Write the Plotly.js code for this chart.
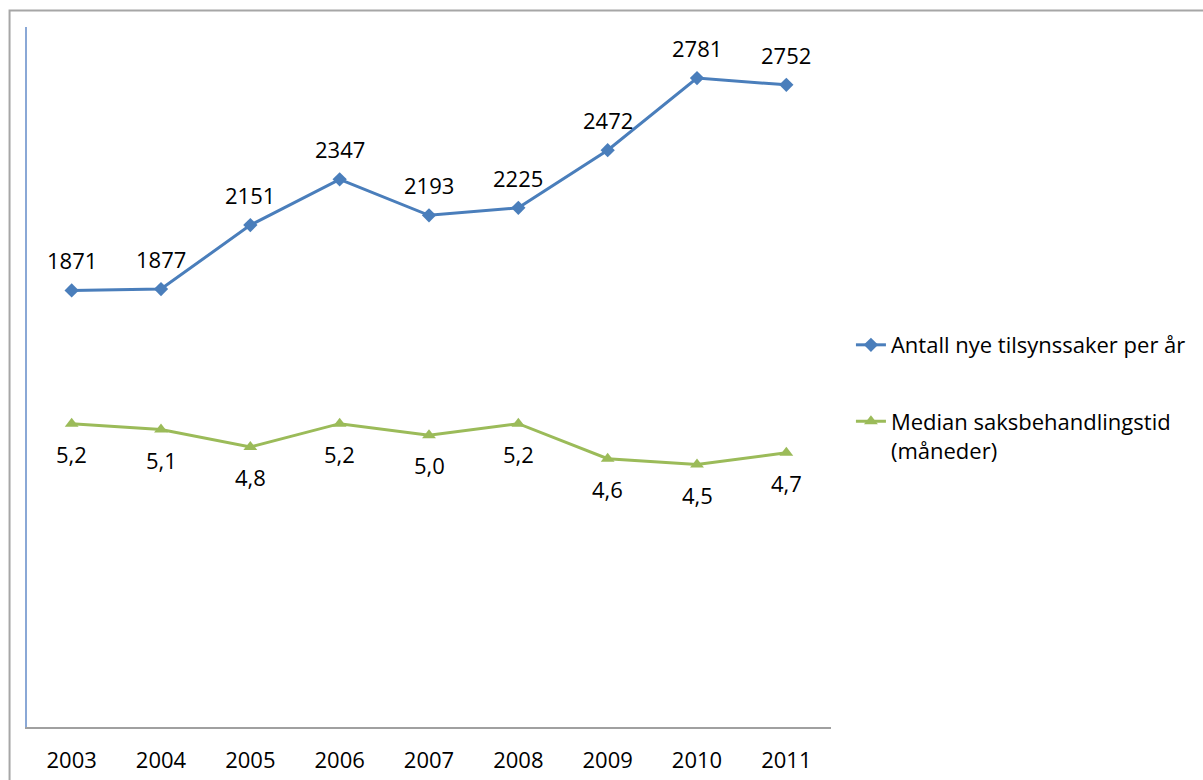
<!DOCTYPE html>
<html>
<head>
<meta charset="utf-8">
<script src="https://cdn.plot.ly/plotly-3.0.1.min.js"></script>
<style>html,body{margin:0;padding:0;background:#fff;}#chart{width:1203px;height:780px;}</style>
</head>
<body>
<div id="chart"></div>
<script>
const years = ['2003','2004','2005','2006','2007','2008','2009','2010','2011'];
const nyeSaker = [1871, 1877, 2151, 2347, 2193, 2225, 2472, 2781, 2752];
const medianTid = [5.2, 5.1, 4.8, 5.2, 5.0, 5.2, 4.6, 4.5, 4.7];
const nameSaker = 'Antall nye tilsynssaker per år';
const nameTid = 'Median saksbehandlingstid<br>(måneder)';

const FONT = '"Open Sans", Lato, sans-serif';
const FS = 22;
const blue = '#4A7EBB';
const green = '#9BBB59';

const traces = [
  {x: years, y: nyeSaker, name: nameSaker, type: 'scatter', mode: 'lines+markers',
   line: {color: blue, width: 3}, marker: {symbol: 'diamond', size: 11, color: blue},
   yaxis: 'y', legend: 'legend', cliponaxis: false},
  {x: years, y: medianTid, name: nameTid, type: 'scatter', mode: 'lines+markers',
   line: {color: green, width: 3}, marker: {symbol: 'triangle-up', size: 12, color: green},
   yaxis: 'y2', legend: 'legend2', cliponaxis: false}
];

const annotations = [];
years.forEach((yr, i) => {
  annotations.push({x: i, y: nyeSaker[i], xref: 'x', yref: 'y', text: String(nyeSaker[i]),
    showarrow: false, yshift: 30, font: {family: FONT, size: FS, color: '#000'}});
  annotations.push({x: i, y: medianTid[i], xref: 'x', yref: 'y2', text: medianTid[i].toFixed(1).replace('.', ','),
    showarrow: false, yshift: -30, font: {family: FONT, size: FS, color: '#000'}});
});

const layout = {
  width: 1203, height: 780,
  margin: {l: 27, r: 370, t: 27, b: 53},
  paper_bgcolor: '#fff', plot_bgcolor: '#fff',
  font: {family: FONT, size: FS, color: '#000'},
  showlegend: true,
  xaxis: {type: 'category', showgrid: false, zeroline: false, showline: true, linecolor: '#A0A0A0', linewidth: 2,
          ticks: '', ticklabelstandoff: 13, tickfont: {family: FONT, size: FS, color: '#000'}, range: [-0.5, 8.5], fixedrange: true},
  yaxis: {range: [0, 3000], showgrid: false, zeroline: false, showticklabels: false, ticks: '',
          showline: true, linecolor: '#8AA8D6', linewidth: 2, fixedrange: true},
  yaxis2: {range: [0, 12], overlaying: 'y', side: 'right', showgrid: false, zeroline: false,
           showticklabels: false, ticks: '', showline: false, fixedrange: true},
  legend: {x: 1.0248, xanchor: 'left', y: 0.5457, yanchor: 'middle', bgcolor: 'rgba(0,0,0,0)',
           font: {family: FONT, size: FS, color: '#000'}, itemwidth: 30},
  legend2: {x: 1.0248, xanchor: 'left', y: 0.4664, yanchor: 'top', bgcolor: 'rgba(0,0,0,0)', valign: 'top',
            font: {family: FONT, size: FS, color: '#000'}, itemwidth: 30},
  annotations: annotations,
  shapes: [
    {type: 'rect', xref: 'paper', yref: 'paper', x0: -0.0217, x1: 1.6, y0: -0.2, y1: 1.0236,
     line: {color: '#A6A6A6', width: 2}, fillcolor: 'rgba(0,0,0,0)', layer: 'below'}
  ]
};

Plotly.newPlot('chart', traces, layout, {displayModeBar: false, staticPlot: true});
</script>
</body>
</html>
